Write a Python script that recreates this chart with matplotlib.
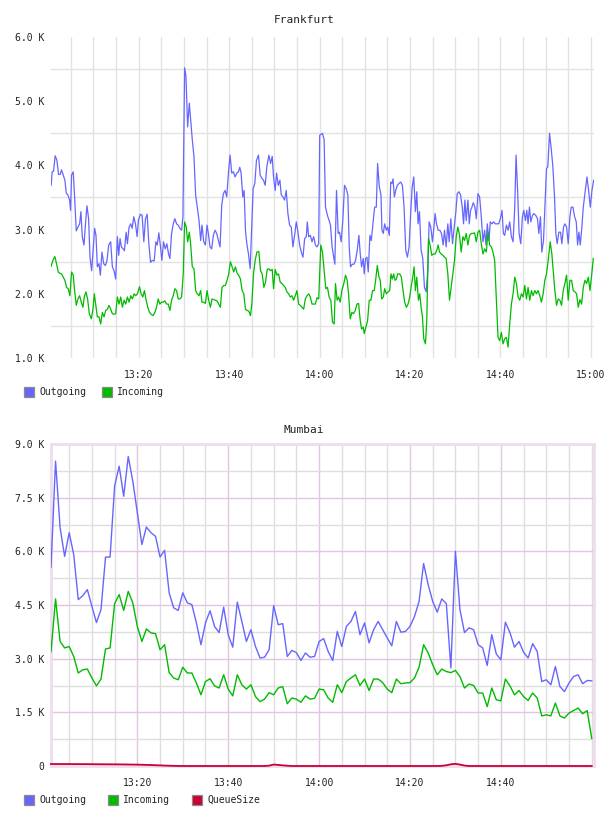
import matplotlib
matplotlib.use("Agg")
import matplotlib.pyplot as plt
from matplotlib.patches import Rectangle

plt.rcParams['font.family'] = ['DejaVu Sans Mono']

# ---------------- data ----------------
# Frankfurt (minutes after 13:00, values in K)
fra_out_min = [0.64,0.86,1.16,1.53,1.90,2.27,2.64,2.93,3.30,3.67,3.97,4.34,4.71,4.93,5.15,5.52,5.82,6.19,6.56,6.93,
 7.22,7.52,7.89,8.26,8.55,8.92,9.22,9.59,9.96,10.25,10.55,10.85,11.22,11.51,11.88,12.25,12.62,12.99,13.36,13.80,
 14.17,14.54,14.91,15.28,15.58,15.88,16.17,16.54,16.84,17.21,17.50,17.87,18.24,18.54,18.91,19.28,19.65,19.94,20.39,20.76,
 21.13,21.50,21.87,22.24,22.61,22.98,23.42,23.79,24.09,24.45,24.82,25.12,25.49,25.86,26.23,26.60,26.90,27.27,27.64,28.00,
 28.37,28.74,29.11,29.48,29.78,30.15,30.45,30.82,31.19,31.48,31.85,32.22,32.59,32.96,33.33,33.70,34.00,34.37,34.74,35.11,
 35.40,35.77,36.14,36.51,36.88,37.25,37.62,37.99,38.36,38.73,39.10,39.47,39.84,40.21,40.58,40.95,41.32,41.69,42.06,42.35,
 42.65,43.02,43.31,43.61,43.91,44.28,44.65,44.94,45.31,45.68,46.05,46.49,46.86,47.23,47.60,47.97,48.34,48.79,49.16,49.53,
 49.82,50.19,50.49,50.86,51.23,51.52,51.89,52.26,52.63,53.00,53.37,53.74,54.11,54.48,54.85,55.22,55.59,55.96,56.33,56.70,
 57.07,57.29,57.59,57.96,58.33,58.70,59.07,59.44,59.81,60.03,
 60.64,61.01,61.31,61.75,62.12,62.41,62.78,63.08,63.38,63.75,64.12,64.41,64.78,65.15,65.52,65.89,66.26,66.56,66.85,67.22,
 67.59,67.96,68.33,68.70,69.00,69.29,69.66,69.88,70.18,70.48,70.77,71.14,71.44,71.81,72.18,72.55,72.84,73.21,73.58,73.80,
 74.10,74.40,74.77,75.06,75.43,75.73,76.02,76.25,76.54,76.84,77.21,77.58,77.95,78.32,78.69,79.06,79.43,79.80,80.17,80.46,
 80.83,81.20,81.50,81.79,82.09,82.46,82.83,83.20,83.57,83.94,84.23,84.60,84.97,85.27,85.56,85.86,86.23,86.60,86.97,87.34,
 87.63,88.00,88.37,88.67,89.04,89.41,89.78,90.15,90.45,90.82,91.19,91.56,91.85,92.15,92.44,92.81,93.11,93.40,93.70,94.00,
 94.37,94.66,95.03,95.40,95.77,96.14,96.51,96.81,97.10,97.47,97.77,98.14,98.51,98.88,99.25,99.62,99.99,100.36,100.65,100.95,
 101.32,101.69,102.06,102.43,102.80,103.17,103.46,103.83,104.13,104.50,104.87,105.16,105.53,105.83,106.12,106.42,106.72,107.09,107.38,107.83,
 108.20,108.49,108.86,109.16,109.53,109.82,110.19,110.49,110.86,111.23,111.60,111.97,112.26,112.56,112.93,113.30,113.59,113.96,114.26,114.63,
 115.00,115.37,115.67,116.04,116.41,116.78,117.07,117.37,117.66,117.96,118.33,118.70,119.14,119.51,119.88,120.25,120.62]
fra_out_k = [3.69,3.90,3.91,4.15,4.08,3.86,3.86,3.93,3.85,3.77,3.57,3.54,3.46,3.30,3.85,3.90,3.51,2.98,3.04,3.09,
 3.28,2.89,2.76,3.12,3.37,3.17,2.57,2.36,2.73,3.02,2.91,2.42,2.47,2.29,2.65,2.47,2.44,2.52,2.76,2.81,
 2.42,2.36,2.23,2.89,2.60,2.86,2.73,2.70,2.67,2.96,2.78,3.04,3.09,3.02,3.20,3.09,2.89,3.15,3.24,3.22,
 2.81,3.17,3.24,2.78,2.49,2.52,2.51,2.81,2.76,2.95,2.73,2.52,2.81,2.70,2.78,2.62,2.55,2.94,3.09,3.17,
 3.09,3.07,3.02,2.99,3.20,5.52,5.39,4.60,4.97,4.71,4.40,4.14,3.54,3.35,3.15,2.83,3.07,2.81,2.76,3.07,
 2.94,2.73,2.70,2.91,2.99,2.94,2.83,2.73,3.38,3.56,3.61,3.51,3.88,4.16,3.88,3.90,3.82,3.88,3.90,3.97,
 3.88,3.51,3.61,2.99,2.78,2.62,2.39,2.94,3.64,3.72,4.08,4.16,3.85,3.80,3.77,3.69,3.98,4.16,4.03,4.14,
 3.82,3.61,3.88,3.69,3.77,3.54,3.51,3.46,3.61,3.25,3.07,3.04,2.73,2.91,3.12,2.96,2.76,2.65,2.57,2.86,
 2.89,3.12,2.89,2.91,2.81,2.89,2.76,2.73,2.78,4.47,
 4.50,4.40,3.35,3.22,3.14,3.07,2.73,2.60,2.46,3.61,2.94,2.96,2.81,3.15,3.69,3.64,3.54,2.73,2.42,2.46,
 2.46,2.52,2.68,2.91,2.62,2.42,2.55,2.31,2.55,2.57,2.34,2.91,2.83,3.09,3.35,3.35,4.03,3.67,3.54,2.99,
 2.94,3.09,2.99,3.04,2.91,3.74,3.72,3.79,3.51,3.61,3.69,3.72,3.74,3.69,3.35,2.68,2.57,2.73,3.28,3.64,
 3.82,3.28,3.59,3.09,3.28,2.68,2.55,2.10,2.03,2.36,3.12,3.04,2.81,3.02,3.25,3.09,2.99,2.99,2.94,2.76,
 2.99,2.73,3.09,2.81,3.17,2.78,3.04,3.28,3.56,3.59,3.54,3.35,3.09,3.46,3.14,3.46,3.09,3.30,3.35,3.42,
 3.35,3.17,3.56,3.51,3.20,2.81,2.99,2.76,3.09,2.83,3.12,3.09,3.12,3.09,3.09,3.09,3.17,3.30,2.94,2.91,
 3.07,2.99,3.12,2.89,2.81,3.35,4.16,3.56,2.94,2.78,3.20,3.30,3.14,3.30,3.09,3.35,3.12,3.22,3.25,3.22,
 3.17,2.94,3.20,2.65,2.83,3.33,3.95,3.98,4.50,4.27,3.98,3.51,2.94,2.78,2.96,2.96,2.78,3.04,3.09,3.04,
 2.78,3.20,3.35,3.35,3.20,3.12,2.76,2.96,2.76,2.99,3.35,3.56,3.82,3.61,3.35,3.61,3.77]

fra_in_min = [0.64,1.01,1.45,1.82,2.19,2.56,2.93,3.30,3.67,4.04,4.41,4.78,5.15,5.52,5.82,6.19,6.56,6.93,7.30,7.67,
 7.96,8.33,8.70,9.07,9.52,9.88,10.18,10.48,10.85,11.22,11.59,11.96,12.33,12.70,13.07,13.43,13.80,14.17,14.54,14.91,
 15.28,15.65,16.02,16.39,16.76,17.13,17.50,17.87,18.24,18.61,18.98,19.35,19.72,20.17,20.53,20.90,21.27,21.64,22.01,22.38,
 22.75,23.20,23.57,23.94,24.31,24.68,25.05,25.42,25.79,26.16,26.53,26.90,27.27,27.64,28.00,28.37,28.74,29.11,29.48,29.85,
 30.15,30.52,30.82,31.19,31.48,31.85,32.22,32.59,32.96,33.33,33.70,34.00,34.37,34.74,35.11,35.48,35.85,36.22,36.58,36.95,
 37.32,37.69,38.06,38.43,38.80,39.17,39.54,39.91,40.28,40.65,41.02,41.39,41.76,42.13,42.50,42.87,43.24,43.61,43.98,44.35,
 44.72,45.02,45.39,45.76,46.13,46.57,46.94,47.31,47.68,48.05,48.42,48.79,49.16,49.53,49.82,50.19,50.56,50.93,51.30,51.67,
 52.04,52.41,52.78,53.15,53.52,53.89,54.26,54.63,55.00,55.37,55.74,56.11,56.48,56.85,57.22,57.59,57.96,58.33,58.70,59.07,
 59.44,59.81,
 60.27,60.64,61.01,61.38,61.75,62.12,62.49,62.86,63.23,63.52,63.89,64.19,64.56,64.93,65.37,65.74,66.11,66.41,66.78,67.15,
 67.52,67.89,68.26,68.63,69.00,69.29,69.66,69.88,70.25,70.62,70.99,71.36,71.73,72.10,72.40,72.77,73.14,73.43,73.73,74.10,
 74.40,74.77,75.14,75.51,75.80,76.10,76.39,76.69,76.99,77.28,77.72,78.09,78.46,78.83,79.20,79.57,79.94,80.24,80.61,80.90,
 81.20,81.50,81.87,82.16,82.46,82.75,83.05,83.42,83.71,84.09,84.45,84.82,85.19,85.56,85.93,86.23,86.53,86.90,87.27,87.63,
 88.00,88.37,88.74,89.11,89.48,89.85,90.22,90.59,90.96,91.33,91.70,92.07,92.44,92.81,93.18,93.55,93.92,94.29,94.66,95.03,
 95.40,95.77,96.14,96.51,96.88,97.25,97.62,97.99,98.36,98.73,99.10,99.47,99.84,100.21,100.58,100.95,101.32,101.69,102.06,102.43,
 102.80,103.17,103.54,103.91,104.28,104.65,105.02,105.39,105.76,106.12,106.49,106.86,107.23,107.60,107.97,108.34,108.71,109.08,109.45,109.82,
 110.19,110.56,111.01,111.38,111.75,112.04,112.41,112.78,113.15,113.52,113.89,114.26,114.63,115.00,115.37,115.74,116.11,116.48,116.85,117.22,
 117.59,117.96,118.33,118.70,119.07,119.44,119.81,120.18,120.55]
fra_in_k = [2.43,2.52,2.58,2.47,2.34,2.32,2.31,2.26,2.21,2.10,2.08,1.97,2.34,2.29,2.05,1.82,1.92,1.97,1.87,1.79,
 1.95,2.03,1.92,1.69,1.61,1.76,2.00,1.84,1.64,1.64,1.53,1.71,1.64,1.74,1.76,1.82,1.76,1.69,1.68,1.69,
 1.95,1.84,1.95,1.79,1.90,1.84,1.95,1.87,1.97,1.92,2.00,1.97,2.00,2.11,2.00,1.95,2.05,1.90,1.79,1.71,
 1.68,1.66,1.71,1.79,1.92,1.84,1.87,1.87,1.89,1.84,1.84,1.74,1.90,1.97,2.08,2.05,1.92,1.92,1.95,2.31,
 3.12,3.04,2.81,2.96,2.78,2.42,2.39,2.05,2.00,1.97,2.05,1.87,1.87,1.85,2.05,1.90,1.79,1.92,1.91,1.90,
 1.89,1.84,1.79,2.10,2.13,2.13,2.21,2.31,2.50,2.42,2.34,2.42,2.32,2.29,2.23,2.05,2.00,1.76,1.74,1.73,
 1.66,1.84,2.31,2.52,2.65,2.66,2.36,2.31,2.10,2.18,2.38,2.39,2.36,2.38,2.08,2.38,2.29,2.31,2.18,2.16,
 2.13,2.10,2.03,2.00,1.95,1.97,1.90,1.97,2.05,1.84,1.82,1.79,1.76,1.92,1.97,2.00,1.95,1.84,1.84,1.84,
 1.94,1.92,
 2.76,2.65,2.36,2.08,2.10,1.95,1.90,1.56,1.53,2.16,1.90,1.95,1.87,2.05,2.16,2.29,2.21,2.00,1.61,1.71,
 1.69,1.74,1.84,1.85,1.58,1.45,1.48,1.38,1.48,1.58,1.90,1.90,2.05,2.05,2.21,2.44,2.26,2.21,1.92,1.95,
 2.08,2.00,2.03,2.05,2.31,2.23,2.31,2.21,2.23,2.31,2.31,2.26,2.05,1.87,1.79,1.84,1.95,2.10,2.26,2.42,
 2.05,2.26,1.90,2.00,1.79,1.64,1.30,1.22,1.58,2.86,2.76,2.60,2.62,2.62,2.68,2.76,2.65,2.62,2.60,2.57,
 2.55,2.31,1.90,2.10,2.31,2.52,2.89,3.04,2.91,2.65,2.89,2.83,2.94,2.76,2.91,2.94,2.94,2.95,2.81,2.96,
 2.99,2.78,2.62,2.70,2.65,2.96,2.76,2.73,2.65,2.52,1.90,1.32,1.27,1.40,1.22,1.30,1.32,1.17,1.53,1.84,
 2.00,2.26,2.16,1.95,1.90,2.00,1.95,2.13,1.92,2.10,1.90,2.05,1.97,2.05,2.00,2.05,1.97,1.87,2.00,2.21,
 2.31,2.52,2.81,2.62,2.31,2.05,1.82,1.92,1.90,1.82,2.05,2.16,2.29,1.90,2.21,2.21,2.05,2.03,2.00,1.79,
 1.91,1.84,2.10,2.21,2.16,2.26,2.05,2.29,2.55]

fra_xtick_min = [20, 40, 60, 80, 100, 120]
fra_xtick_labels = ["13:20", "13:40", "14:00", "14:20", "14:40", "15:00"]
fra_ytick_k = [1, 2, 3, 4, 5, 6]
fra_ytick_labels = ["1.0 K", "2.0 K", "3.0 K", "4.0 K", "5.0 K", "6.0 K"]

# Mumbai (one sample per minute, 13:01 .. 15:00, values in K)
mum_min = list(range(1, 121))
mum_out_k = [5.56,8.52,6.66,5.86,6.52,5.91,4.65,4.76,4.93,4.46,
 4.01,4.37,5.84,5.84,7.82,8.38,7.54,8.65,7.96,7.08,
 6.19,6.68,6.52,6.42,5.84,6.03,4.84,4.42,4.35,4.84,
 4.56,4.51,4.00,3.39,4.00,4.34,3.90,3.73,4.44,3.67,
 3.32,4.58,4.04,3.48,3.81,3.34,3.02,3.04,3.25,4.48,
 3.95,3.98,3.06,3.23,3.17,2.95,3.16,3.04,3.06,3.48,
 3.56,3.20,2.95,3.76,3.34,3.90,4.04,4.32,3.67,4.00,
 3.44,3.81,4.04,3.81,3.58,3.36,4.04,3.74,3.76,3.90,
 4.18,4.60,5.66,5.07,4.60,4.30,4.67,4.54,2.74,6.00,
 4.37,3.73,3.86,3.81,3.39,3.30,2.81,3.67,3.13,2.97,
 4.02,3.73,3.32,3.48,3.18,3.02,3.42,3.20,2.36,2.41,
 2.27,2.78,2.22,2.08,2.32,2.50,2.55,2.30,2.39,2.38]
mum_in_k = [3.20,4.67,3.48,3.30,3.34,3.06,2.60,2.69,2.71,2.46,
 2.24,2.43,3.27,3.30,4.54,4.79,4.35,4.88,4.56,3.90,
 3.48,3.83,3.72,3.70,3.25,3.39,2.61,2.46,2.41,2.76,
 2.60,2.60,2.32,1.99,2.36,2.44,2.24,2.18,2.55,2.15,
 1.96,2.55,2.27,2.15,2.27,1.94,1.80,1.87,2.05,1.99,
 2.18,2.22,1.74,1.90,1.87,1.78,1.96,1.87,1.89,2.15,
 2.13,1.90,1.78,2.27,2.05,2.36,2.46,2.55,2.25,2.43,
 2.11,2.43,2.43,2.33,2.15,2.05,2.43,2.30,2.32,2.33,
 2.46,2.76,3.39,3.16,2.83,2.55,2.71,2.64,2.61,2.67,
 2.50,2.18,2.29,2.25,2.04,2.04,1.66,2.18,1.85,1.82,
 2.43,2.24,1.99,2.11,1.94,1.83,2.04,1.90,1.40,1.43,
 1.40,1.76,1.40,1.34,1.48,1.55,1.62,1.46,1.55,0.77]
mum_queue_k = [0.056,0.056,0.055,0.055,0.054,0.054,0.053,0.053,0.052,0.051,
 0.050,0.049,0.048,0.047,0.046,0.045,0.044,0.042,0.040,0.038,
 0.035,0.031,0.027,0.022,0.017,0.012,0.008,0.004,0.002,0.0,
 0.0,0.0,0.0,0.0,0.0,0.0,0.0,0.0,0.0,0.0,
 0.0,0.0,0.0,0.0,0.0,0.0,0.0,0.0,0.010,0.040,
 0.030,0.018,0.008,0.0,0.0,0.0,0.0,0.0,0.0,0.0,
 0.0,0.0,0.0,0.0,0.0,0.0,0.0,0.0,0.0,0.0,
 0.0,0.0,0.0,0.0,0.0,0.0,0.0,0.0,0.0,0.0,
 0.0,0.0,0.0,0.0,0.0,0.0,0.005,0.020,0.048,0.060,
 0.040,0.012,0.0,0.0,0.0,0.0,0.0,0.0,0.0,0.0,
 0.0,0.0,0.0,0.0,0.0,0.0,0.0,0.0,0.0,0.0,
 0.0,0.0,0.0,0.0,0.0,0.0,0.0,0.0,0.0,0.0]

mum_xtick_min = [20, 40, 60, 80, 100]
mum_xtick_labels = ["13:20", "13:40", "14:00", "14:20", "14:40"]
mum_ytick_k = [0, 1.5, 3.0, 4.5, 6.0, 7.5, 9.0]
mum_ytick_labels = ["0", "1.5 K", "3.0 K", "4.5 K", "6.0 K", "7.5 K", "9.0 K"]

# ---------------- style ----------------
W, H = 608, 816
C_OUT = "#6666ff"
C_IN = "#00bb00"
C_Q = "#cc0033"
TXT = "#222222"

fig = plt.figure(figsize=(W / 100, H / 100), dpi=100)


def px_axes(l, t, r, b):
    return fig.add_axes([l / W, 1 - b / H, (r - l) / W, (b - t) / H])


def legend_item(x, y, color, label):
    fig.patches.append(Rectangle((x / W, 1 - (y + 5) / H), 10 / W, 10 / H,
                                 transform=fig.transFigure, facecolor=color,
                                 edgecolor="#8a8a8a", lw=0.9))
    fig.text((x + 15) / W, 1 - y / H, label, ha="left", va="center",
             fontsize=7, color=TXT)


# ---------------- Frankfurt ----------------
ax1 = px_axes(51, 37, 594, 358)
ax1.set_xlim(0.6, 120.7)
ax1.set_ylim(1, 6)
ax1.plot(fra_out_min, fra_out_k, color=C_OUT, lw=0.9, zorder=3)
ax1.plot(fra_in_min, fra_in_k, color=C_IN, lw=0.9, zorder=3)
ax1.set_xticks(fra_xtick_min, fra_xtick_labels)
ax1.set_xticks(list(range(5, 121, 5)), minor=True)
ax1.set_yticks(fra_ytick_k, fra_ytick_labels)
ax1.set_yticks([1.5, 2.5, 3.5, 4.5, 5.5], minor=True)
ax1.xaxis.remove_overlapping_locs = False
ax1.grid(which="minor", color="#e3e3e3", lw=1.0)
ax1.grid(which="major", visible=False)
ax1.set_axisbelow(True)
ax1.tick_params(which="both", length=0, labelsize=7, colors=TXT)
ax1.tick_params(axis="x", pad=8.5)
ax1.tick_params(axis="y", pad=5)
for s in ax1.spines.values():
    s.set_visible(False)

fig.text(0.5, 1 - 20 / H, "Frankfurt", ha="center", va="center", fontsize=8, color=TXT)
legend_item(24, 392, C_OUT, "Outgoing")
legend_item(102, 392, C_IN, "Incoming")

# ---------------- Mumbai ----------------
ax2 = px_axes(51, 444, 594, 766)
ax2.set_xlim(1.0, 120.5)
ax2.set_ylim(0, 9)
ax2.plot(mum_min, mum_out_k, color=C_OUT, lw=1.0, zorder=3)
ax2.plot(mum_min, mum_in_k, color=C_IN, lw=1.0, zorder=3)
ax2.plot(mum_min, mum_queue_k, color=C_Q, lw=1.3, zorder=4, clip_on=False)
ax2.set_xticks(mum_xtick_min, mum_xtick_labels)
ax2.set_xticks([m for m in range(5, 121, 5) if m not in mum_xtick_min], minor=True)
ax2.set_yticks(mum_ytick_k, mum_ytick_labels)
ax2.set_yticks([0.75, 2.25, 3.75, 5.25, 6.75, 8.25], minor=True)
ax2.grid(which="major", color="#e0c6e0", lw=1.0)
ax2.grid(which="minor", color="#dedede", lw=1.0)
ax2.set_axisbelow(True)
ax2.tick_params(which="both", length=0, labelsize=7, colors=TXT)
ax2.tick_params(axis="x", pad=8.5)
ax2.tick_params(axis="y", pad=5)
for s in ax2.spines.values():
    s.set_color("#efdcef")
    s.set_linewidth(2.0)

fig.text(0.5, 1 - 430 / H, "Mumbai", ha="center", va="center", fontsize=8, color=TXT)
legend_item(24, 800, C_OUT, "Outgoing")
legend_item(108, 800, C_IN, "Incoming")
legend_item(192, 800, C_Q, "QueueSize")

fig.savefig("out.png", dpi=100, facecolor="white")
